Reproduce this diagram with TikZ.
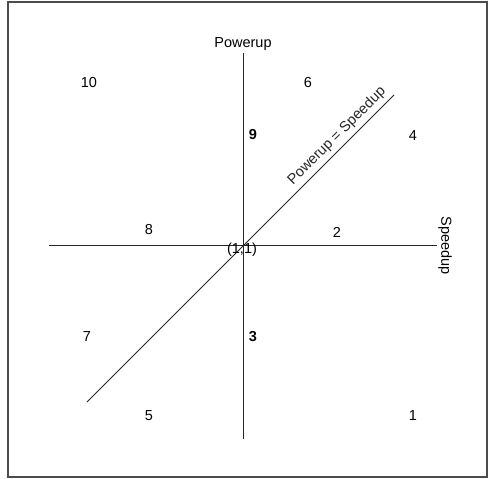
\documentclass[tikz,border=0pt]{standalone}
\usepackage{fontspec}
\setmainfont{Liberation Sans}
\tikzset{
  lbl/.style={inner sep=0pt, font=\fontsize{14.5}{16}\selectfont},
  blbl/.style={lbl, font=\fontsize{14.5}{16}\selectfont\bfseries},
  axis/.style={line width=0.9pt, black!85}
}
\begin{document}
\begin{tikzpicture}[x=1pt,y=-1pt]
\useasboundingbox (0,0) rectangle (488,479);
\draw[line width=1.2pt, black!70] (8,2) rectangle (487,477);
\coordinate (vt) at (243,53);
\coordinate (vb) at (243,439);
\coordinate (hl) at (49,245.5);
\coordinate (hr) at (436.5,245.5);
\coordinate (dl) at (87,402);
\coordinate (dr) at (394,95);
\draw[axis] (vt) -- (vb);
\draw[axis] (hl) -- (hr);
\draw[axis] (dl) -- (dr) node[pos=0.84, sloped, above=4pt, lbl] (dlab) {Powerup = Speedup};
\node[lbl] (pw) at (243,44) {Powerup};
\node[lbl, rotate=-90] (sp) at (445,246) {Speedup};
\node[lbl] (n10) at (89,83) {10};
\node[lbl] (n6) at (308,83) {6};
\node[blbl] (n9) at (253,135) {9};
\node[lbl] (n4) at (413,136) {4};
\node[lbl] (n8) at (149,230) {8};
\node[lbl] (n2) at (337,232) {2};
\node[lbl] (o) at (242,250) {(1,1)};
\node[lbl] (n7) at (87,337) {7};
\node[blbl] (n3) at (253,337) {3};
\node[lbl] (n5) at (149,416) {5};
\node[lbl] (n1) at (413,416) {1};
\end{tikzpicture}
\end{document}
